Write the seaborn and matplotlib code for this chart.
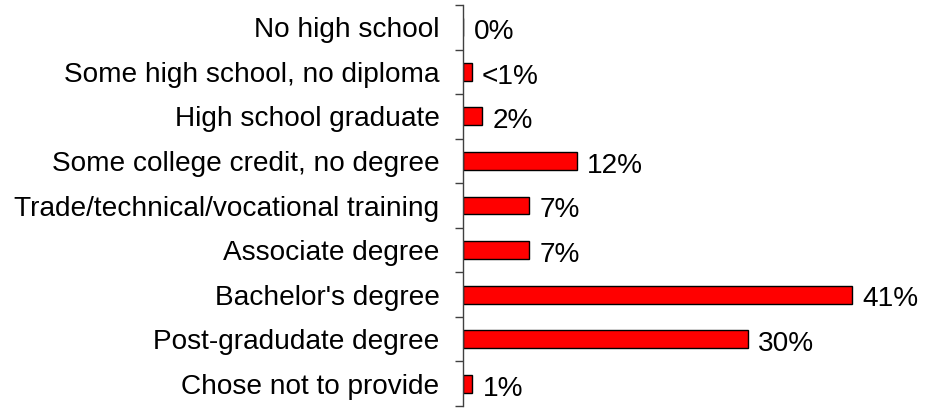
import matplotlib
matplotlib.use("Agg")
import matplotlib.pyplot as plt
import seaborn as sns
import pandas as pd
import numpy as np

categories = ["No high school", "Some high school, no diploma", "High school graduate",
              "Some college credit, no degree", "Trade/technical/vocational training",
              "Associate degree", "Bachelor's degree", "Post-gradudate degree",
              "Chose not to provide"]
values = [0, 0.9, 2, 12, 7, 7, 41, 30, 1]
value_labels = ["0%", "<1%", "2%", "12%", "7%", "7%", "41%", "30%", "1%"]

sns.set_theme(style="white")
plt.rcParams['font.family'] = ['Liberation Sans', 'DejaVu Sans']

fig = plt.figure(figsize=(9.32, 4.11), dpi=100)
ax = fig.add_axes([463/932, 5/411, (890-463)/932, 401/411])

df = pd.DataFrame({"cat": categories, "val": values})
sns.barplot(data=df, y="cat", x="val", orient="h", color="#FF0000", saturation=1,
            edgecolor="black", linewidth=1, width=0.4, ax=ax)

ax.set_xlim(0, 45)
ax.set_ylim(len(categories) - 0.5, -0.5)
ax.set_xlabel("")
ax.set_ylabel("")
for s in ["top", "right", "bottom"]:
    ax.spines[s].set_visible(False)
ax.spines["left"].set_color("#404040")
ax.spines["left"].set_linewidth(1)
ax.set_xticks([])
ax.set_yticks(range(len(categories)))
ax.set_yticklabels(categories, fontsize=20.2, color="black")
ax.set_yticks(np.arange(-0.5, len(categories), 1), minor=True)
ax.tick_params(axis="y", which="major", length=0, pad=17)
ax.tick_params(axis="y", which="minor", length=6, width=1, color="#404040", direction="out", left=True)

for i, (v, lab) in enumerate(zip(values, value_labels)):
    ax.annotate(lab, xy=(v, i), xytext=(7.5, -3.5), textcoords="offset points",
                va="center", ha="left", fontsize=20.2, color="black")

fig.savefig("out.png", dpi=100)
